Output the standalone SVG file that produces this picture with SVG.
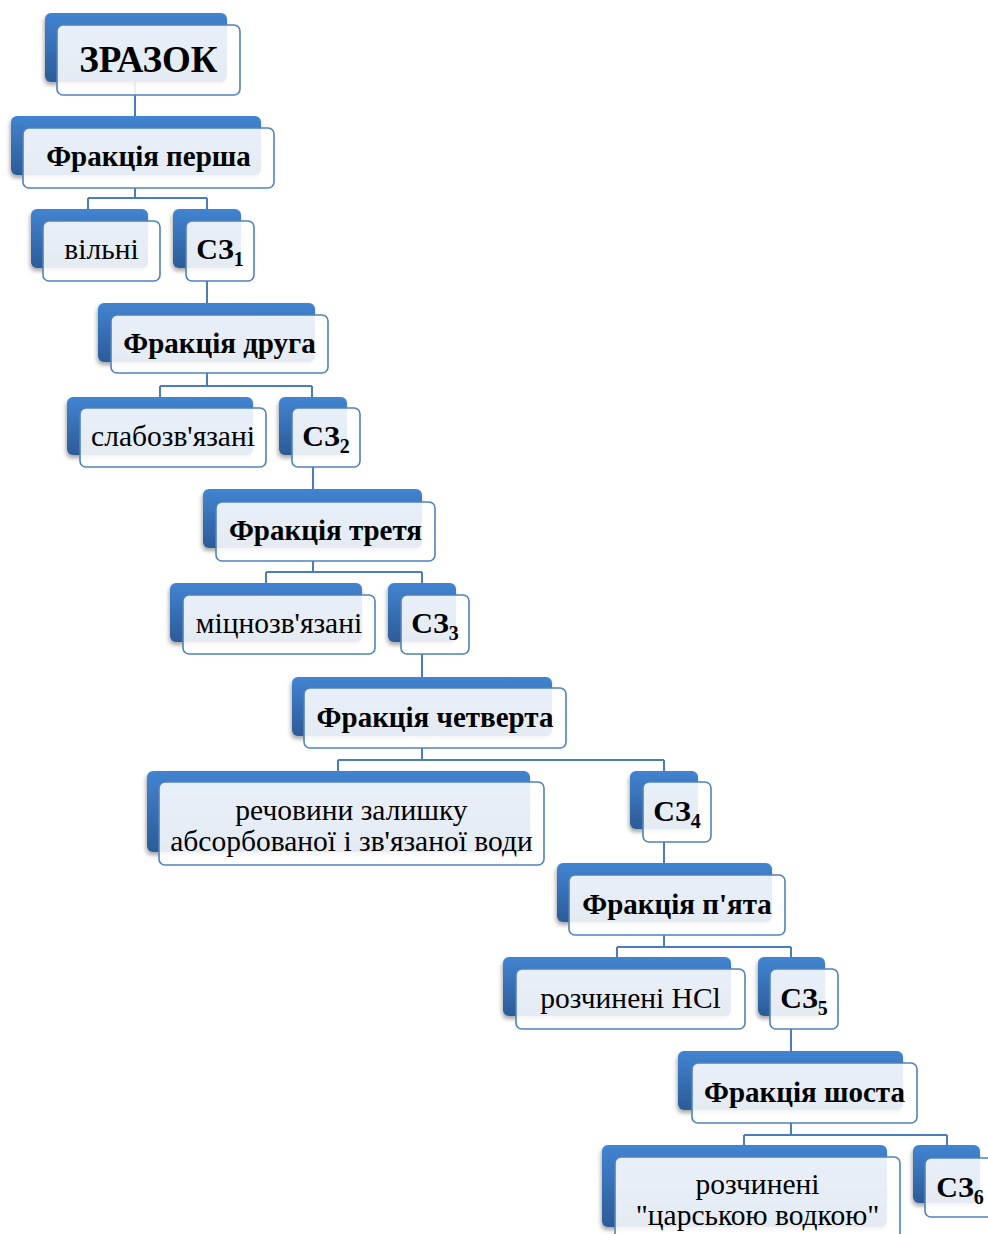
<svg xmlns="http://www.w3.org/2000/svg" width="988" height="1234" viewBox="0 0 988 1234">
<defs>
<linearGradient id="tabg" x1="0" y1="0" x2="0" y2="1">
<stop offset="0" stop-color="#4284d1"/>
<stop offset="1" stop-color="#2c5b98"/>
</linearGradient>
<filter id="sh" x="-10%" y="-10%" width="120%" height="130%">
<feDropShadow dx="-1" dy="3" stdDeviation="2" flood-color="#000" flood-opacity="0.35"/>
</filter>
</defs>
<style>
.tab{fill:url(#tabg);filter:url(#sh)}
.front{fill:#ffffff;fill-opacity:0.88;stroke:#4f81bd;stroke-width:1.6}
.conn{fill:none;stroke:#4a7ebb;stroke-width:2}
text{font-family:"Liberation Serif","Times New Roman",serif;fill:#000;text-anchor:middle}
.b{font-weight:bold;font-size:29px}
.r{font-size:29.5px}
.big{font-weight:bold;font-size:37px}
.sz{font-weight:bold;font-size:30px}
.sub{font-size:20px}
</style>
<rect width="988" height="1234" fill="#ffffff"/>
<g id="connectors">
<path class="conn" d="M135,82V128"/>
<path class="conn" d="M135,188V198M88,198H207M88,198V209M207,198V209"/>
<path class="conn" d="M207,281V315"/>
<path class="conn" d="M207,373V386M160,386H312M160,386V397M312,386V397"/>
<path class="conn" d="M313,467V502"/>
<path class="conn" d="M313,561V572M266,572H422M266,572V583M422,572V583"/>
<path class="conn" d="M422,654V688"/>
<path class="conn" d="M422,748V760M338,760H664M338,760V771M664,760V771"/>
<path class="conn" d="M664,842V875"/>
<path class="conn" d="M664,935V947M617,947H791M617,947V957M791,947V957"/>
<path class="conn" d="M791,1029V1063"/>
<path class="conn" d="M791,1123V1135M744,1135H947M744,1135V1145M947,1135V1145"/>
</g>
<g id="n-zrazok">
<rect class="tab" x="45" y="13" width="182" height="69" rx="6"/>
<rect class="front" x="57" y="25" width="183" height="70" rx="6"/>
<text class="big" x="148.5" y="72">ЗРАЗОК</text>
</g>
<g id="n-f1">
<rect class="tab" x="11" y="116" width="250" height="59" rx="6"/>
<rect class="front" x="23" y="128" width="251" height="60" rx="6"/>
<text class="b" x="148.5" y="166">Фракція перша</text>
</g>
<g id="n-vilni">
<rect class="tab" x="31" y="209" width="117" height="59" rx="6"/>
<rect class="front" x="43" y="221" width="117" height="60" rx="6"/>
<text class="r" x="101.5" y="259">вільні</text>
</g>
<g id="n-sz1">
<rect class="tab" x="173" y="209" width="68" height="59" rx="6"/>
<rect class="front" x="186" y="221" width="68" height="60" rx="6"/>
<text class="sz" x="220" y="259">СЗ<tspan class="sub" dy="7">1</tspan></text>
</g>
<g id="n-f2">
<rect class="tab" x="98" y="303" width="217" height="59" rx="6"/>
<rect class="front" x="111" y="315" width="217" height="58" rx="6"/>
<text class="b" x="219.5" y="353">Фракція друга</text>
</g>
<g id="n-slabo">
<rect class="tab" x="67" y="397" width="186" height="58" rx="6"/>
<rect class="front" x="80" y="408" width="186" height="59" rx="6"/>
<text class="r" x="173" y="446">слабозв'язані</text>
</g>
<g id="n-sz2">
<rect class="tab" x="279" y="397" width="68" height="58" rx="6"/>
<rect class="front" x="292" y="408" width="68" height="59" rx="6"/>
<text class="sz" x="326" y="446">СЗ<tspan class="sub" dy="7">2</tspan></text>
</g>
<g id="n-f3">
<rect class="tab" x="203" y="489" width="219" height="59" rx="6"/>
<rect class="front" x="216" y="502" width="219" height="59" rx="6"/>
<text class="b" x="325.5" y="540">Фракція третя</text>
</g>
<g id="n-mitsno">
<rect class="tab" x="170" y="583" width="192" height="59" rx="6"/>
<rect class="front" x="183" y="595" width="192" height="59" rx="6"/>
<text class="r" x="279" y="633">міцнозв'язані</text>
</g>
<g id="n-sz3">
<rect class="tab" x="388" y="583" width="68" height="59" rx="6"/>
<rect class="front" x="401" y="595" width="68" height="59" rx="6"/>
<text class="sz" x="435" y="633">СЗ<tspan class="sub" dy="7">3</tspan></text>
</g>
<g id="n-f4">
<rect class="tab" x="292" y="677" width="260" height="59" rx="6"/>
<rect class="front" x="304" y="688" width="262" height="60" rx="6"/>
<text class="b" x="435" y="727">Фракція четверта</text>
</g>
<g id="n-rechovyny">
<rect class="tab" x="147" y="771" width="383" height="81" rx="6"/>
<rect class="front" x="159" y="782" width="385" height="83" rx="6"/>
<text class="r" x="351.5" y="820">речовини залишку</text>
<text class="r" x="351.5" y="851">абсорбованої і зв'язаної води</text>
</g>
<g id="n-sz4">
<rect class="tab" x="630" y="771" width="68" height="58" rx="6"/>
<rect class="front" x="643" y="782" width="68" height="60" rx="6"/>
<text class="sz" x="677" y="821">СЗ<tspan class="sub" dy="7">4</tspan></text>
</g>
<g id="n-f5">
<rect class="tab" x="557" y="863" width="215" height="59" rx="6"/>
<rect class="front" x="569" y="875" width="216" height="60" rx="6"/>
<text class="b" x="677" y="914">Фракція п'ята</text>
</g>
<g id="n-hcl">
<rect class="tab" x="503" y="957" width="228" height="59" rx="6"/>
<rect class="front" x="516" y="969" width="229" height="60" rx="6"/>
<text class="r" x="630.5" y="1008">розчинені HCl</text>
</g>
<g id="n-sz5">
<rect class="tab" x="758" y="957" width="67" height="59" rx="6"/>
<rect class="front" x="770" y="969" width="68" height="60" rx="6"/>
<text class="sz" x="804" y="1008">СЗ<tspan class="sub" dy="7">5</tspan></text>
</g>
<g id="n-f6">
<rect class="tab" x="678" y="1051" width="225" height="59" rx="6"/>
<rect class="front" x="692" y="1063" width="225" height="60" rx="6"/>
<text class="b" x="804.5" y="1102">Фракція шоста</text>
</g>
<g id="n-vodka">
<rect class="tab" x="602" y="1145" width="285" height="82" rx="6"/>
<rect class="front" x="615" y="1157" width="285" height="85" rx="6"/>
<text class="r" x="757.5" y="1194">розчинені</text>
<text class="r" x="757.5" y="1225">"царською водкою"</text>
</g>
<g id="n-sz6">
<rect class="tab" x="913" y="1145" width="67" height="58" rx="6"/>
<rect class="front" x="925" y="1158" width="68" height="59" rx="6"/>
<text class="sz" x="960" y="1197">СЗ<tspan class="sub" dy="7">6</tspan></text>
</g>
</svg>
